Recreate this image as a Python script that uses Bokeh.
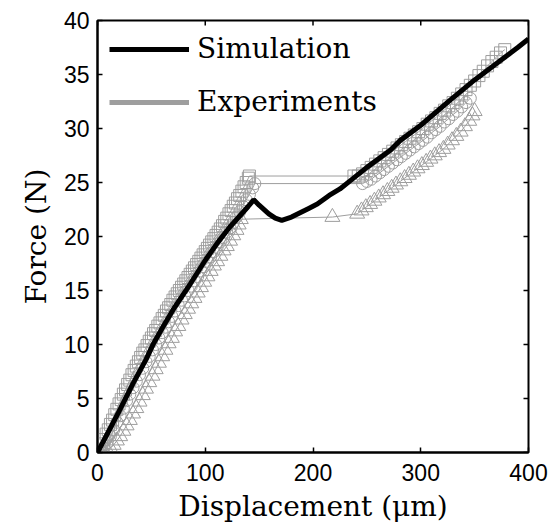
import math
from bokeh.plotting import figure
from bokeh.models import Range1d, FixedTicker, Legend, LegendItem
from bokeh.embed import file_html
from bokeh.resources import INLINE

# Simulation
sim_x = [0, 10, 20, 33, 45, 52, 60, 70, 86, 100, 112, 123, 132, 140, 145, 150, 159, 165, 171,
         180, 188, 196, 204, 215, 225, 235, 250, 272, 281, 300, 327, 350, 374, 390, 400]
sim_y = [0, 1.9, 3.8, 6.4, 8.6, 10.1, 11.5, 13.2, 15.6, 17.8, 19.5, 20.9, 21.9, 22.8, 23.4, 22.9, 22.1, 21.7, 21.5,
         21.8, 22.2, 22.6, 23.0, 23.8, 24.4, 25.2, 26.4, 28.0, 28.9, 30.3, 32.6, 34.5, 36.3, 37.5, 38.3]

# Experiment 1 (squares)
sq_x = [0, 2, 4, 6, 8, 10, 12, 14, 16, 18, 20, 22, 24, 26, 28, 30, 32, 34, 36, 38, 40, 42, 44, 46, 48,
        50, 52, 54, 56, 58, 60, 62, 64, 66, 68, 70, 72, 74, 76, 78, 80, 82, 84, 86, 88, 90, 92, 94, 96, 98,
        100, 102, 104, 106, 108, 110, 112, 114, 116, 118, 120, 122, 124, 126, 128, 130, 132, 134, 136, 138,
        140, 141,
        238, 242, 246, 250, 254, 258, 262, 266, 270, 274, 278, 282, 286, 290, 294, 298, 302, 306, 310, 314,
        318, 322, 326, 330, 334, 338, 342, 346, 350, 354, 358, 362, 366, 370, 374, 378]
sq_y = [0, 0.3, 0.8, 1.2, 1.7, 2.1, 2.6, 3.0, 3.5, 4.0, 4.5, 4.9, 5.4, 5.8, 6.3, 6.7, 7.2, 7.6, 8.0, 8.4,
        8.8, 9.2, 9.5, 9.9, 10.3, 10.6, 11.0, 11.3, 11.7, 12.0, 12.4, 12.7, 13.1, 13.4, 13.7, 14.1, 14.4, 14.7,
        15.0, 15.3, 15.6, 15.9, 16.2, 16.5, 16.8, 17.1, 17.4, 17.7, 18.0, 18.3, 18.6, 18.9, 19.2, 19.5, 19.8,
        20.1, 20.4, 20.7, 21.0, 21.4, 21.7, 22.1, 22.4, 22.8, 23.1, 23.5, 23.8, 24.2, 24.6, 25.0, 25.4, 25.6,
        25.6, 25.6, 25.8, 26.1, 26.4, 26.7, 27.0, 27.3, 27.6, 27.9, 28.2, 28.5, 28.8, 29.1, 29.4, 29.7, 30.0,
        30.4, 30.7, 31.0, 31.4, 31.7, 32.1, 32.4, 32.8, 33.2, 33.6, 34.0, 34.4, 34.9, 35.3, 35.8, 36.2, 36.6,
        37.0, 37.3]

# Experiment 2 (circles)
ci_x = [0, 3, 6, 9, 12, 15, 18, 21, 24, 27, 30, 33, 36, 39, 42, 45, 48, 51, 54, 57, 60, 63, 66, 69, 72,
        75, 78, 81, 84, 87, 90, 93, 96, 99, 102, 105, 108, 111, 114, 117, 120, 123, 126, 129, 132, 135, 138,
        141, 144, 146,
        246, 250, 254, 258, 262, 266, 270, 274, 278, 282, 286, 290, 294, 298, 302, 306, 310, 314, 318, 322,
        326, 330, 334, 338, 342, 346]
ci_y = [0, 0.1, 0.4, 0.9, 1.5, 2.1, 2.8, 3.4, 4.1, 4.8, 5.4, 6.0, 6.6, 7.2, 7.8, 8.4, 8.9, 9.5, 10.0, 10.6,
        11.1, 11.6, 12.1, 12.6, 13.1, 13.6, 14.1, 14.5, 15.0, 15.4, 15.9, 16.3, 16.8, 17.2, 17.7, 18.1, 18.6,
        19.0, 19.5, 19.9, 20.4, 20.8, 21.3, 21.8, 22.3, 22.8, 23.4, 23.9, 24.5, 24.9,
        24.9, 25.1, 25.3, 25.6, 25.9, 26.2, 26.5, 26.8, 27.1, 27.4, 27.7, 28.0, 28.3, 28.6, 28.9, 29.2, 29.6,
        29.9, 30.2, 30.6, 30.9, 31.3, 31.6, 32.0, 32.4, 32.8]

# Experiment 3 (triangles)
tr_x = [0, 3, 6, 9, 12, 15, 18, 21, 24, 27, 30, 33, 36, 39, 42, 45, 48, 51, 54, 57, 60, 63, 66, 69, 72,
        75, 78, 81, 84, 87, 90, 93, 96, 99, 102, 105, 108, 111, 114, 117, 120, 123, 126, 129, 131, 133,
        218, 241, 245, 249, 253, 257, 261, 265, 269, 273, 277, 281, 285, 289, 293, 297, 301, 305, 309, 313,
        317, 321, 325, 329, 333, 337, 341, 345, 348, 350]
tr_y = [0, 0, 0.1, 0.2, 0.4, 0.7, 1.1, 1.5, 2.0, 2.5, 3.0, 3.6, 4.1, 4.7, 5.3, 5.9, 6.5, 7.1, 7.7, 8.3,
        8.9, 9.5, 10.1, 10.6, 11.2, 11.7, 12.3, 12.8, 13.3, 13.8, 14.3, 14.8, 15.3, 15.8, 16.3, 16.8, 17.3,
        17.7, 18.2, 18.7, 19.1, 19.6, 20.1, 20.6, 21.1, 21.6,
        21.8, 22.1, 22.4, 22.7, 23.0, 23.3, 23.6, 23.9, 24.2, 24.5, 24.8, 25.1, 25.4, 25.7, 26.0, 26.3, 26.6,
        26.9, 27.2, 27.5, 27.8, 28.1, 28.5, 28.9, 29.3, 29.7, 30.2, 30.7, 31.2, 31.6]

x_ticks = [0, 100, 200, 300, 400]
y_ticks = [0, 5, 10, 15, 20, 25, 30, 35, 40]
x_min, x_max = 0, 400
y_min, y_max = 0, 40

GRAY = "#9e9e9e"
SERIF = "DejaVu Serif"
SANS = "Liberation Sans"

p = figure(width=555, height=531, output_backend="svg", toolbar_location=None,
           x_range=Range1d(x_min, x_max), y_range=Range1d(y_min, y_max),
           min_border_left=97, min_border_right=27, min_border_top=20, min_border_bottom=79)
p.background_fill_color = "white"
p.border_fill_color = "white"
p.grid.visible = False
p.outline_line_color = "black"
p.outline_line_width = 2

for ax in (p.xaxis[0], p.yaxis[0]):
    ax.major_tick_in = 5
    ax.major_tick_out = 0
    ax.minor_tick_in = 0
    ax.minor_tick_out = 0
    ax.axis_line_width = 2
    ax.major_tick_line_width = 1.5
    ax.major_label_text_font = SANS
    ax.major_label_text_font_size = "23px"
    ax.major_label_text_color = "black"
    ax.axis_label_text_font = SERIF
    ax.axis_label_text_font_size = "28px"
    ax.axis_label_text_font_style = "normal"
    ax.axis_label_text_color = "black"

p.xaxis[0].ticker = FixedTicker(ticks=x_ticks)
p.yaxis[0].ticker = FixedTicker(ticks=y_ticks)
p.xaxis[0].axis_label = "Displacement (μm)"
p.yaxis[0].axis_label = "Force (N)"
p.xaxis[0].major_label_standoff = 11
p.yaxis[0].major_label_standoff = 8
p.xaxis[0].axis_label_standoff = 6
p.yaxis[0].axis_label_standoff = 8

# mirrored inward ticks on top and right edges (half of each dash is clipped by the frame)
p.scatter(x_ticks, [y_max] * len(x_ticks), marker="dash", angle=math.pi / 2, size=10,
          line_color="black", line_width=1.5)
p.scatter([x_max] * len(y_ticks), y_ticks, marker="dash", size=10,
          line_color="black", line_width=1.5)

# experiments
p.line(sq_x, sq_y, line_color=GRAY, line_width=1)
p.scatter(sq_x, sq_y, marker="square", size=12, fill_alpha=0, line_color=GRAY, line_width=1)
p.line(ci_x, ci_y, line_color=GRAY, line_width=1)
p.scatter(ci_x, ci_y, marker="circle", size=12, fill_alpha=0, line_color=GRAY, line_width=1)
p.line(tr_x, tr_y, line_color=GRAY, line_width=1)
p.scatter(tr_x, tr_y, marker="triangle", size=15, fill_alpha=0, line_color=GRAY, line_width=1)

# simulation
sim = p.line(sim_x, sim_y, line_color="black", line_width=5)
exp_proxy = p.line([float("nan")], [float("nan")], line_color=GRAY, line_width=5)

legend = Legend(items=[LegendItem(label="Simulation", renderers=[sim]),
                       LegendItem(label="Experiments", renderers=[exp_proxy])],
                location="top_left", margin=3, padding=9, spacing=20,
                glyph_width=80, label_standoff=8,
                label_text_font=SERIF, label_text_font_size="28px", label_text_color="black",
                border_line_alpha=0, background_fill_alpha=0)
p.add_layout(legend, "center")

open("out.html", "w").write(file_html(p, INLINE))
